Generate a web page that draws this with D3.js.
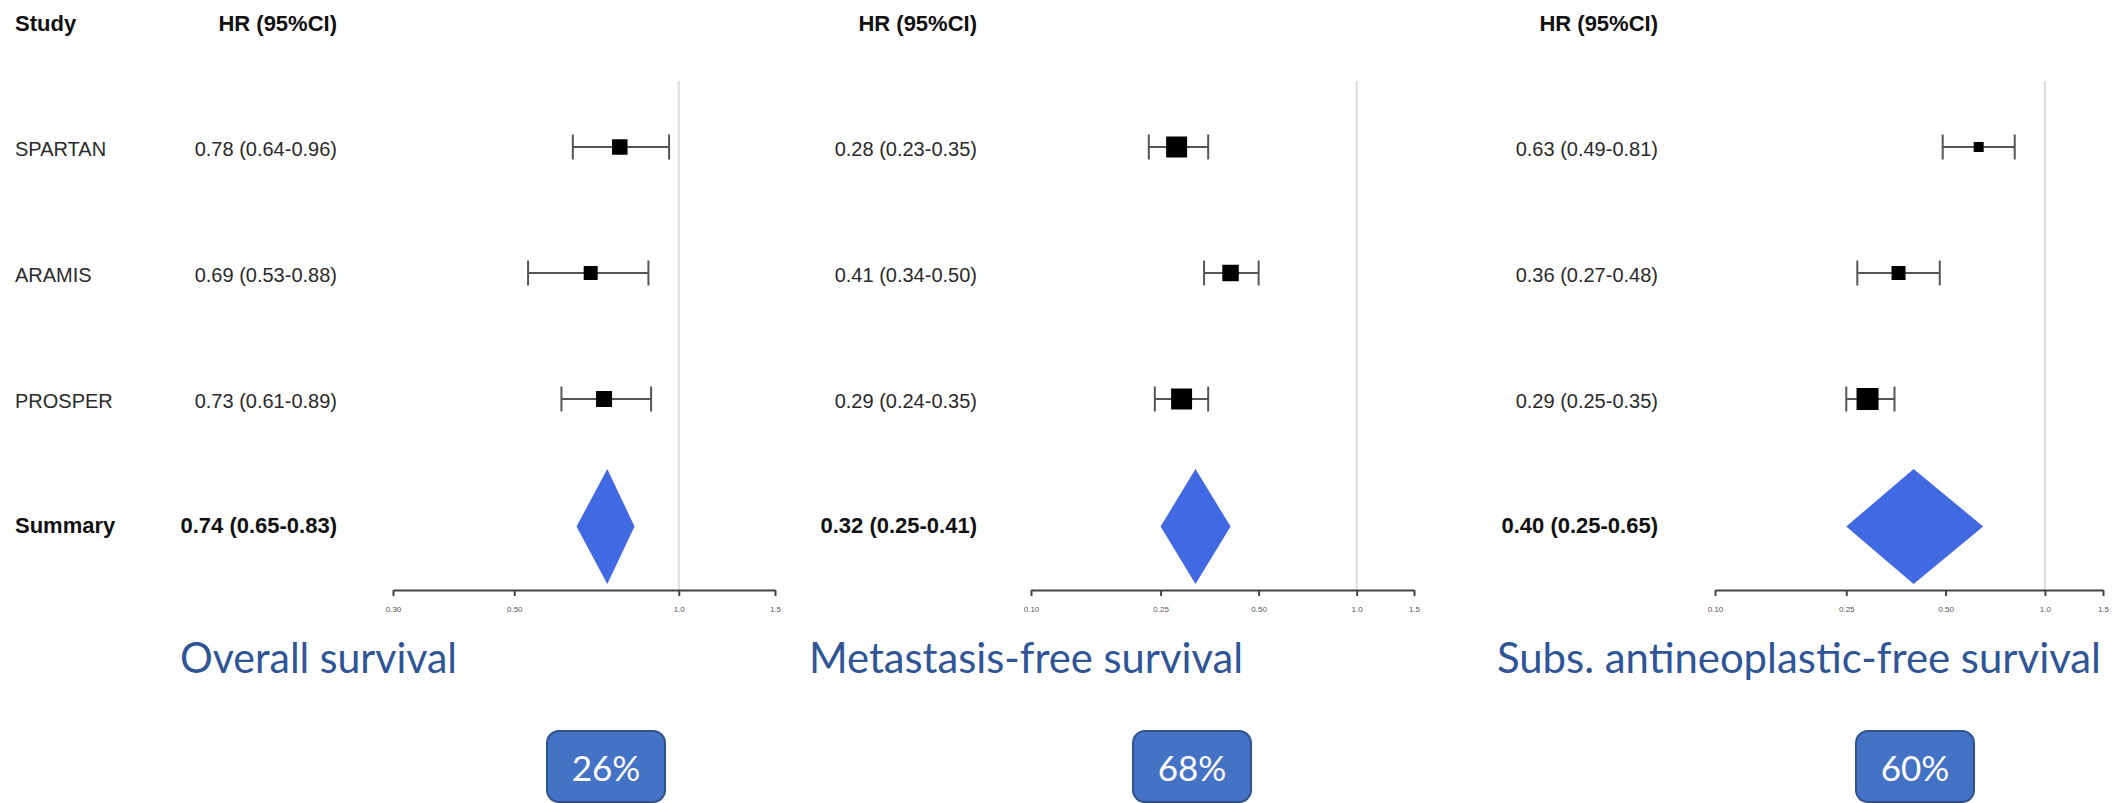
<!DOCTYPE html>
<html>
<head>
<meta charset="utf-8">
<script src="https://cdn.jsdelivr.net/npm/d3@7"></script>
<style>
  body { margin: 0; background: #fff; }
  svg { display: block; }
</style>
</head>
<body>
<svg id="chart" width="2125" height="803"></svg>
<script>
// data
const studies = ["SPARTAN", "ARAMIS", "PROSPER"];
const summaryLabel = "Summary";
const panelTitles = ["Overall survival", "Metastasis-free survival", "Subs. antineoplastic-free survival"];
const reductions = ["26%", "68%", "60%"];

const osHR = [0.78, 0.69, 0.73];
const osLo = [0.64, 0.53, 0.61];
const osHi = [0.96, 0.88, 0.89];
const osWeight = [60, 49, 64];
const osSummary = [0.74, 0.65, 0.83];
const osTicks = [0.30, 0.50, 1.0, 1.5];
const osTickLabels = ["0.30", "0.50", "1.0", "1.5"];

const mfsHR = [0.28, 0.41, 0.29];
const mfsLo = [0.23, 0.34, 0.24];
const mfsHi = [0.35, 0.50, 0.35];
const mfsWeight = [110, 68, 110];
const mfsSummary = [0.32, 0.25, 0.41];
const mfsTicks = [0.10, 0.25, 0.50, 1.0, 1.5];
const mfsTickLabels = ["0.10", "0.25", "0.50", "1.0", "1.5"];

const safsHR = [0.63, 0.36, 0.29];
const safsLo = [0.49, 0.27, 0.25];
const safsHi = [0.81, 0.48, 0.35];
const safsWeight = [25, 49, 121];
const safsSummary = [0.40, 0.25, 0.65];
const safsTicks = [0.10, 0.25, 0.50, 1.0, 1.5];
const safsTickLabels = ["0.10", "0.25", "0.50", "1.0", "1.5"];

// layout per panel
const panels = [
  { hr: osHR, lo: osLo, hi: osHi, w: osWeight, sum: osSummary, ticks: osTicks, tickLabels: osTickLabels,
    showStudy: true, numRight: 337, x0: 393, x1: 775, titleX: 180, titleLen: 277, boxX: 547 },
  { hr: mfsHR, lo: mfsLo, hi: mfsHi, w: mfsWeight, sum: mfsSummary, ticks: mfsTicks, tickLabels: mfsTickLabels,
    showStudy: false, numRight: 977, x0: 1031, x1: 1414, titleX: 809, titleLen: 434, boxX: 1133 },
  { hr: safsHR, lo: safsLo, hi: safsHi, w: safsWeight, sum: safsSummary, ticks: safsTicks, tickLabels: safsTickLabels,
    showStudy: false, numRight: 1658, x0: 1715, x1: 2103, titleX: 1497, titleLen: 604, boxX: 1856 }
];

const svg = d3.select("#chart");
const f2 = d3.format(".2f");
const ciText = (h, l, u) => `${f2(h)} (${f2(l)}-${f2(u)})`;

const y = d3.scalePoint().domain([...studies, summaryLabel]).range([147, 525]);
const boxSize = d3.scaleSqrt().domain([0, 100]).range([0, 20]);
const axisY = 590;
const textFont = "'Liberation Sans', Arial, sans-serif";

panels.forEach((p, pi) => {
  const g = svg.append("g");
  const x = d3.scaleLog().domain([p.ticks[0], p.ticks[p.ticks.length - 1]]).range([p.x0, p.x1]);

  // headers
  if (p.showStudy) {
    g.append("text").attr("x", 15).attr("y", 31)
      .attr("font-family", textFont).attr("font-weight", "bold").attr("font-size", 22)
      .attr("fill", "#111").text("Study");
  }
  g.append("text").attr("x", p.numRight).attr("y", 31).attr("text-anchor", "end")
    .attr("font-family", textFont).attr("font-weight", "bold").attr("font-size", 22)
    .attr("fill", "#111").text("HR (95%CI)");

  // reference line at 1
  g.append("line")
    .attr("x1", x(1)).attr("x2", x(1))
    .attr("y1", 81).attr("y2", axisY)
    .attr("stroke", "#dcdcdc").attr("stroke-width", 2);

  const rows = studies.map((s, i) => ({ s, hr: p.hr[i], lo: p.lo[i], hi: p.hi[i], w: p.w[i] }));

  // row text
  if (p.showStudy) {
    g.selectAll(".study").data(rows).join("text")
      .attr("x", 15).attr("y", (d) => y(d.s) + 9)
      .attr("font-family", textFont).attr("font-size", 20).attr("fill", "#2a2a2a")
      .text((d) => d.s);
    g.append("text").attr("x", 15).attr("y", y(summaryLabel) + 8)
      .attr("font-family", textFont).attr("font-weight", "bold").attr("font-size", 22)
      .attr("fill", "#111").text(summaryLabel);
  }
  g.selectAll(".num").data(rows).join("text")
    .attr("x", p.numRight).attr("y", (d) => y(d.s) + 9).attr("text-anchor", "end")
    .attr("font-family", textFont).attr("font-size", 20).attr("fill", "#2a2a2a")
    .text((d) => ciText(d.hr, d.lo, d.hi));
  g.append("text").attr("x", p.numRight).attr("y", y(summaryLabel) + 8).attr("text-anchor", "end")
    .attr("font-family", textFont).attr("font-weight", "bold").attr("font-size", 22)
    .attr("fill", "#111").text(ciText(p.sum[0], p.sum[1], p.sum[2]));

  // whiskers
  const ci = g.selectAll(".ci").data(rows).join("g").attr("stroke", "#555").attr("stroke-width", 2);
  ci.append("line").attr("x1", (d) => x(d.lo)).attr("x2", (d) => x(d.hi))
    .attr("y1", (d) => y(d.s)).attr("y2", (d) => y(d.s));
  ci.append("line").attr("x1", (d) => x(d.lo)).attr("x2", (d) => x(d.lo))
    .attr("y1", (d) => y(d.s) - 12.5).attr("y2", (d) => y(d.s) + 12.5);
  ci.append("line").attr("x1", (d) => x(d.hi)).attr("x2", (d) => x(d.hi))
    .attr("y1", (d) => y(d.s) - 12.5).attr("y2", (d) => y(d.s) + 12.5);

  // boxes
  g.selectAll(".box").data(rows).join("rect")
    .attr("x", (d) => x(d.hr) - boxSize(d.w) / 2)
    .attr("y", (d) => y(d.s) - boxSize(d.w) / 2)
    .attr("width", (d) => boxSize(d.w)).attr("height", (d) => boxSize(d.w))
    .attr("fill", "#000");

  // summary diamond
  const sy = y(summaryLabel) + 1.5, dh = 57.5;
  g.append("path")
    .attr("d", d3.line()([[x(p.sum[1]), sy], [x(p.sum[0]), sy - dh], [x(p.sum[2]), sy], [x(p.sum[0]), sy + dh]]) + "Z")
    .attr("fill", "#4169E1");

  // axis
  const ax = g.append("g").attr("transform", `translate(0,${axisY})`)
    .call(d3.axisBottom(x).tickValues(p.ticks).tickFormat((d, i) => p.tickLabels[i])
      .tickSize(6).tickSizeOuter(0).tickPadding(10));
  ax.select(".domain").attr("stroke", "#444").attr("stroke-width", 2);
  ax.selectAll(".tick line").attr("stroke", "#444").attr("stroke-width", 2);
  ax.selectAll(".tick text").attr("font-family", textFont).attr("font-size", 8).attr("fill", "#555");

  // title
  svg.append("text").attr("x", p.titleX).attr("y", 673)
    .attr("font-family", "Lato, 'Open Sans', sans-serif").attr("font-size", 42)
    .attr("fill", "#2F5597")
    .attr("textLength", p.titleLen).attr("lengthAdjust", "spacingAndGlyphs")
    .text(panelTitles[pi]);

  // reduction badge
  const badge = svg.append("g").attr("transform", `translate(${p.boxX},731)`);
  badge.append("rect").attr("width", 118).attr("height", 71).attr("rx", 12)
    .attr("fill", "#4472C4").attr("stroke", "#2F528F").attr("stroke-width", 2);
  badge.append("text").attr("x", 59).attr("y", 50).attr("text-anchor", "middle")
    .attr("font-family", "Lato, 'Open Sans', sans-serif").attr("font-size", 35)
    .attr("fill", "#fff").text(reductions[pi]);
});
</script>
</body>
</html>
